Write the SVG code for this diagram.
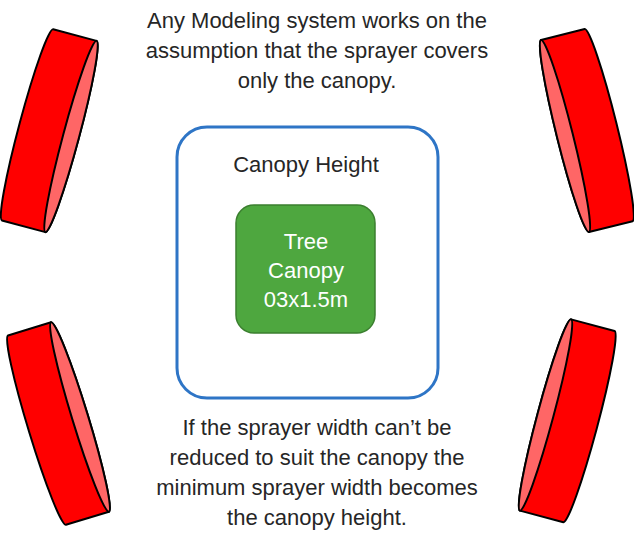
<svg xmlns="http://www.w3.org/2000/svg" width="634" height="540" viewBox="0 0 634 540">
<style>
.t{font-family:"Liberation Sans",Arial,sans-serif;font-size:22px;fill:#262626;text-anchor:middle}
.w{fill:#fff}
.body{fill:#ff0000;stroke:#000;stroke-width:2;stroke-linejoin:round}
.face{fill:#ff6666;stroke:#000;stroke-width:2}
</style>
<defs>
<g id="cyl">
<path class="body" d="M-45,-99 L0,-99 A8,99 0 0 1 0,99 L-45,99 A8,99 0 0 1 -45,-99 Z"/>
<ellipse class="face" cx="0" cy="0" rx="8" ry="99"/>
</g>
</defs>
<g id="sprayer-tl"><use href="#cyl" transform="translate(71,136.5) rotate(15)"/></g>
<g id="sprayer-tr"><use href="#cyl" transform="translate(565,136) rotate(-14) scale(-1,1)"/></g>
<g id="sprayer-bl"><use href="#cyl" transform="translate(80,417) rotate(-17)"/></g>
<g id="sprayer-br"><use href="#cyl" transform="translate(545.5,415) rotate(15) scale(-1,1)"/></g>
<g id="top-text">
<text class="t" x="317" y="28">Any Modeling system works on the</text>
<text class="t" x="317" y="58">assumption that the sprayer covers</text>
<text class="t" x="317" y="88">only the canopy.</text>
</g>
<g id="canopy-height">
<rect x="177" y="127" width="261" height="271" rx="30" fill="#fff" stroke="#2e75c6" stroke-width="3"/>
<text class="t" x="306" y="172">Canopy Height</text>
</g>
<g id="tree-canopy">
<rect x="236" y="205" width="139" height="128" rx="18" fill="#4ea73f" stroke="#3b7f2f" stroke-width="1.5"/>
<text class="t w" x="306" y="249">Tree</text>
<text class="t w" x="306" y="278">Canopy</text>
<text class="t w" x="306" y="307">03x1.5m</text>
</g>
<g id="bottom-text">
<text class="t" x="317" y="435">If the sprayer width can’t be</text>
<text class="t" x="317" y="465">reduced to suit the canopy the</text>
<text class="t" x="317" y="495">minimum sprayer width becomes</text>
<text class="t" x="317" y="525">the canopy height.</text>
</g>
<g id="connectors"/>
</svg>
